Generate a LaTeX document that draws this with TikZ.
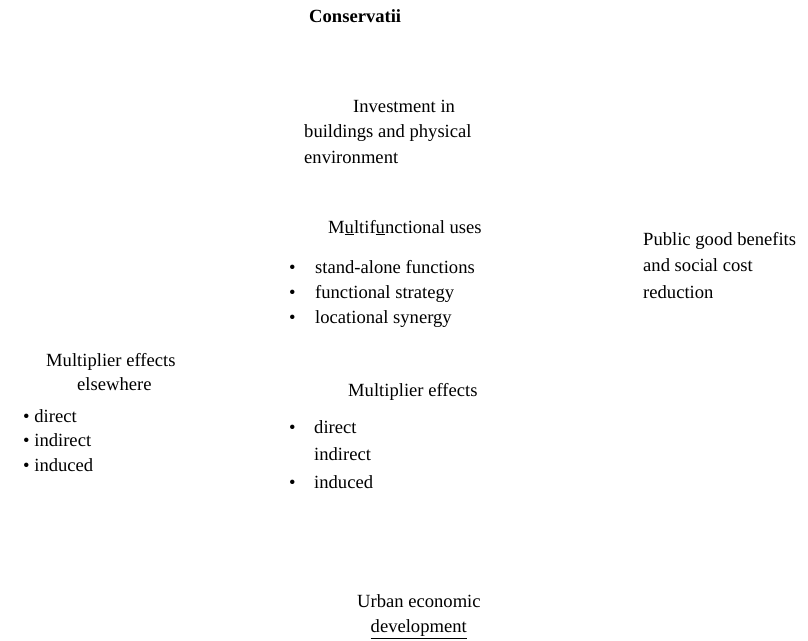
\documentclass[tikz,border=0pt]{standalone}
\usepackage{fontspec}
\setmainfont{Liberation Serif}
\begin{document}
\begin{tikzpicture}[x=1pt,y=-1pt,
  txt/.style={anchor=base west, inner sep=0pt, font=\fontsize{18.6}{25}\selectfont},
  ttl/.style={txt, font=\fontsize{18.6}{25}\selectfont\bfseries}]
\useasboundingbox (0,0) rectangle (808,640);
% title
\node[ttl] (title) at (309,22) {Conservatii};
% investment
\node[txt] (inv1) at (353,112) {Investment in};
\node[txt] (inv2) at (304,137.5) {buildings and physical};
\node[txt] (inv3) at (304,163) {environment};
% multifunctional uses
\node[txt] (mf) at (328,233) {M\underline{u}ltif\underline{u}nctional uses};
\node[txt] (mfb1) at (289,273) {•};
\node[txt] (mf1) at (315,273) {stand-alone functions};
\node[txt] (mfb2) at (289,298) {•};
\node[txt] (mf2) at (315,298) {functional strategy};
\node[txt] (mfb3) at (289,323) {•};
\node[txt] (mf3) at (315,323) {locational synergy};
% public good
\node[txt] (pg1) at (643,245) {Public good benefits};
\node[txt] (pg2) at (643,271.5) {and social cost};
\node[txt] (pg3) at (643,298) {reduction};
% multiplier effects elsewhere
\node[txt] (me1) at (46,366.5) {Multiplier effects};
\node[txt] (me2) at (77,390) {elsewhere};
\node[txt] (me3) at (23,422) {• direct};
\node[txt] (me4) at (23,446.5) {• indirect};
\node[txt] (me5) at (23,471.5) {• induced};
% multiplier effects
\node[txt] (mm) at (348,396.5) {Multiplier effects};
\node[txt] (mmb1) at (289,433) {•};
\node[txt] (mm1) at (314,433) {direct};
\node[txt] (mm2) at (314,460.5) {indirect};
\node[txt] (mmb3) at (289,488) {•};
\node[txt] (mm3) at (314,488) {induced};
% urban economic development
\node[txt] (ued1) at (357,607.5) {Urban economic};
\node[txt] (ued2) at (370.5,632.5) {\underline{development}};
\end{tikzpicture}
\end{document}
